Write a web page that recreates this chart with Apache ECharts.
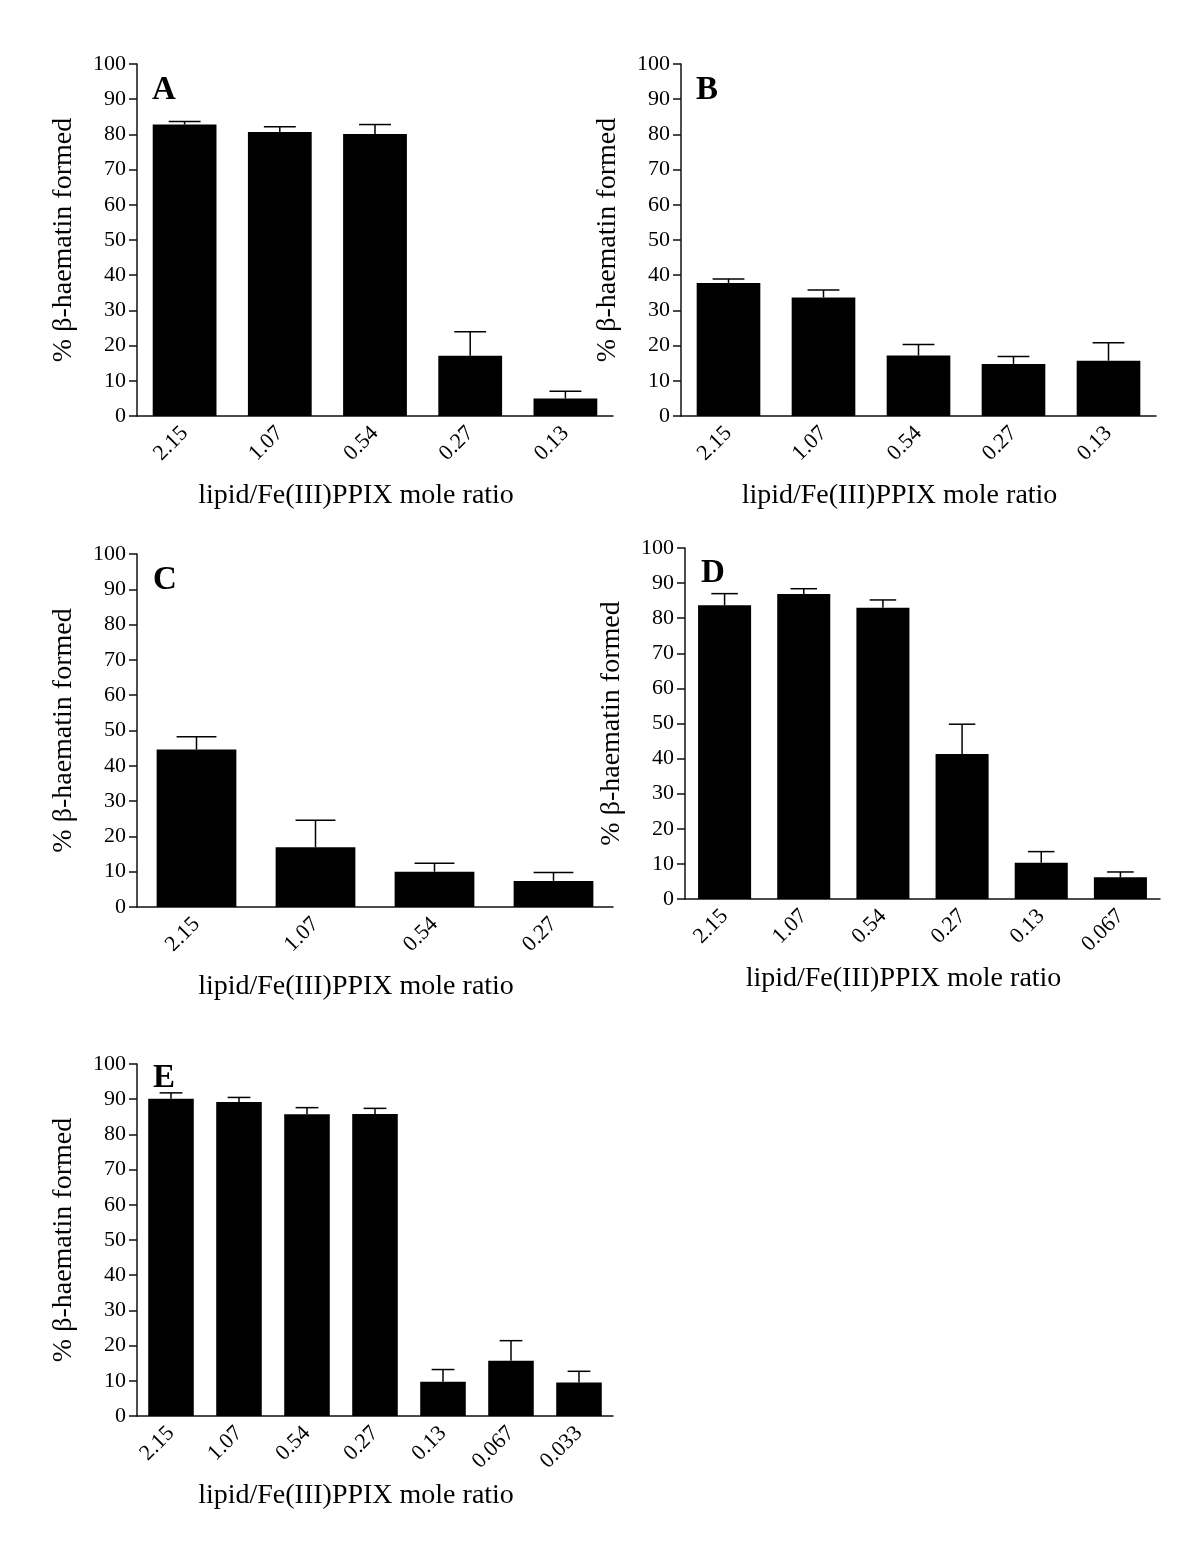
<!DOCTYPE html>
<html><head><meta charset="utf-8">
<script src="https://cdn.jsdelivr.net/npm/echarts@6/dist/echarts.min.js"></script>
<style>html,body{margin:0;padding:0;background:#fff}#c{width:1200px;height:1565px}</style>
</head><body><div id="c"></div>
<script>
// ---- data ----
const catsA = ['2.15','1.07','0.54','0.27','0.13'];
const meanA = [82.8, 80.7, 80.1, 17.1, 5.0];
const upperA = [83.7, 82.2, 82.8, 23.9, 7.0];

const catsB = ['2.15','1.07','0.54','0.27','0.13'];
const meanB = [37.8, 33.7, 17.2, 14.8, 15.7];
const upperB = [38.9, 35.8, 20.3, 16.9, 20.8];

const catsC = ['2.15','1.07','0.54','0.27'];
const meanC = [44.6, 16.9, 10.0, 7.4];
const upperC = [48.2, 24.6, 12.4, 9.8];

const catsD = ['2.15','1.07','0.54','0.27','0.13','0.067'];
const meanD = [83.7, 86.9, 83.0, 41.3, 10.3, 6.2];
const upperD = [87.0, 88.4, 85.2, 49.8, 13.5, 7.7];

const catsE = ['2.15','1.07','0.54','0.27','0.13','0.067','0.033'];
const meanE = [90.1, 89.2, 85.7, 85.8, 9.7, 15.7, 9.5];
const upperE = [91.8, 90.5, 87.6, 87.4, 13.2, 21.4, 12.7];

const panelLetters = ['A','B','C','D','E'];
const yTitle = '% β-haematin formed';
const xTitle = 'lipid/Fe(III)PPIX mole ratio';

// ---- layout ----
const FONT = '"Liberation Serif", "Times New Roman", serif';
const panels = [
  {cats: catsA, mean: meanA, upper: upperA, grid: {left:137, top:64, width:476, height:352}, letter:[152, 74]},
  {cats: catsB, mean: meanB, upper: upperB, grid: {left:681, top:64, width:475, height:352}, letter:[696, 74]},
  {cats: catsC, mean: meanC, upper: upperC, grid: {left:137, top:554, width:476, height:353}, letter:[153, 564]},
  {cats: catsD, mean: meanD, upper: upperD, grid: {left:685, top:548, width:475, height:351}, letter:[701, 557]},
  {cats: catsE, mean: meanE, upper: upperE, grid: {left:137, top:1064, width:476, height:352}, letter:[153, 1062]}
];

function renderErr(params, api) {
  const x = api.value(0), m = api.value(1), u = api.value(2);
  const p0 = api.coord([x, m]);
  const p1 = api.coord([x, u]);
  const bw = api.size([1, 0])[0] * 0.67;
  const half = bw * 0.25;
  return {
    type: 'group',
    children: [
      {type: 'line', shape: {x1: p0[0], y1: p0[1], x2: p1[0], y2: p1[1]}, style: {stroke: '#000', lineWidth: 1.5}},
      {type: 'line', shape: {x1: p1[0] - half, y1: p1[1], x2: p1[0] + half, y2: p1[1]}, style: {stroke: '#000', lineWidth: 1.5}}
    ]
  };
}

const grids = [], xAxes = [], yAxes = [], series = [], graphics = [];
panels.forEach((p, i) => {
  grids.push(p.grid);
  xAxes.push({
    type: 'category', gridIndex: i, data: p.cats,
    axisLine: {lineStyle: {color: '#111', width: 1.5}},
    axisTick: {show: false},
    axisLabel: {rotate: 45, fontFamily: FONT, fontSize: 22, color: '#000', margin: 14, interval: 0},
    name: xTitle, nameLocation: 'middle', nameGap: 66,
    nameTextStyle: {fontFamily: FONT, fontSize: 28, color: '#000', padding: [0, 38, 0, 0]}
  });
  yAxes.push({
    type: 'value', gridIndex: i, min: 0, max: 100, interval: 10,
    splitLine: {show: false},
    axisLine: {show: true, lineStyle: {color: '#111', width: 1.5}},
    axisTick: {show: true, length: 8, lineStyle: {color: '#111', width: 1.5}},
    axisLabel: {fontFamily: FONT, fontSize: 22, color: '#000', margin: 11},
    name: yTitle, nameLocation: 'middle', nameGap: 59,
    nameTextStyle: {fontFamily: FONT, fontSize: 28, color: '#000'}
  });
  series.push({
    type: 'bar', xAxisIndex: i, yAxisIndex: i, data: p.mean,
    barCategoryGap: '33%', itemStyle: {color: '#000'}, silent: true, animation: false
  });
  series.push({
    type: 'custom', xAxisIndex: i, yAxisIndex: i, renderItem: renderErr, z: 5,
    data: p.mean.map((m, k) => [k, m, p.upper[k]]), silent: true, animation: false
  });
  graphics.push({
    type: 'text', left: p.letter[0], top: p.letter[1],
    style: {text: panelLetters[i], font: 'bold 33px ' + FONT, fill: '#000'}
  });
});

const chart = echarts.init(document.getElementById('c'), null, {renderer: 'canvas'});
chart.setOption({
  animation: false,
  backgroundColor: '#fff',
  grid: grids, xAxis: xAxes, yAxis: yAxes, series: series, graphic: graphics
});
</script></body></html>
